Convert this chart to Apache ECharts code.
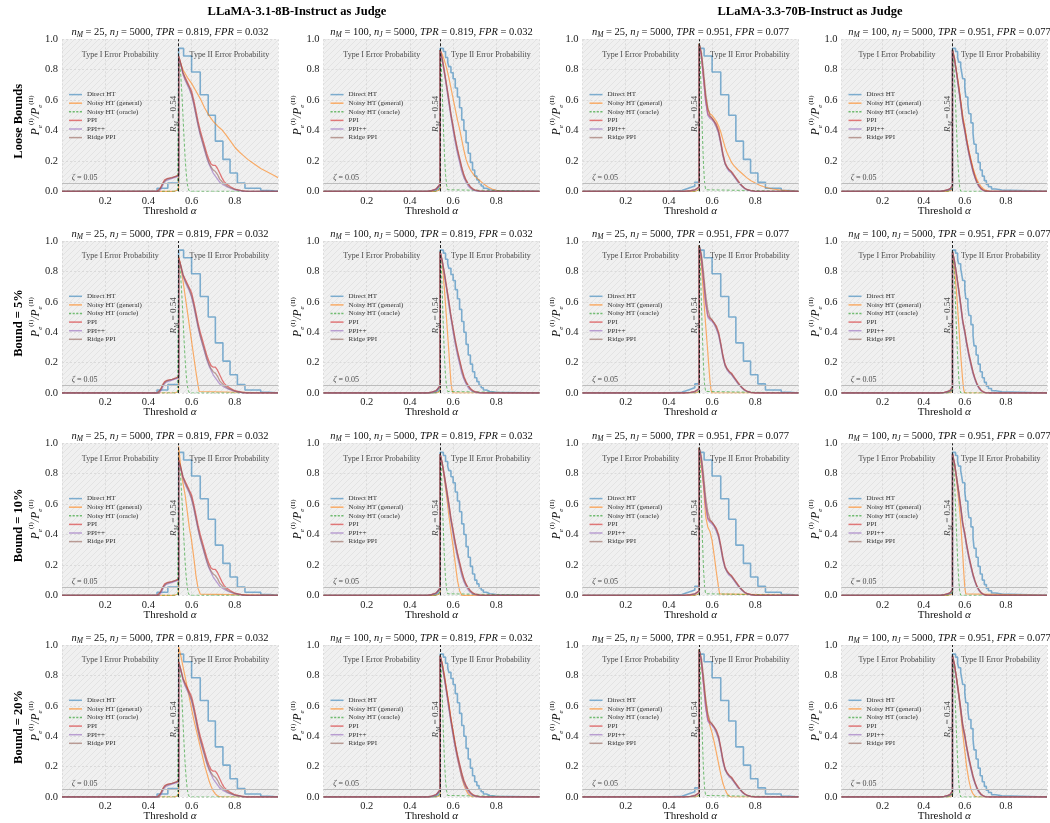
<!DOCTYPE html>
<html><head><meta charset="utf-8">
<script src="https://cdn.jsdelivr.net/npm/echarts@6/dist/echarts.min.js"></script>
<style>html,body{margin:0;padding:0;background:#fff}#c{width:1050px;height:823px}</style>
</head><body><div id="c"></div><script>
// ---------------- DATA ----------------
const seriesNames = ['Direct HT','Noisy HT (general)','Noisy HT (oracle)','PPI','PPI++','Ridge PPI'];
const rowLabels = ['Loose Bounds','Bound = 5%','Bound = 10%','Bound = 20%'];
const judgeTitles = ['LLaMA-3.1-8B-Instruct as Judge','LLaMA-3.3-70B-Instruct as Judge'];
const nM = [25, 100, 25, 100];
const nJ = 5000;
const tprVals = ['0.819','0.819','0.951','0.951'];
const fprVals = ['0.032','0.032','0.077','0.077'];
const RM = 0.54;
const zeta = 0.05;
const xTicks = [0.2, 0.4, 0.6, 0.8];

// Direct HT (step curves), per column
const directA = [[0,0],[0.44,0.02],[0.49,0.055],[0.54,0.94],[0.563,0.89],[0.60,0.785],[0.64,0.635],[0.677,0.50],[0.71,0.33],[0.745,0.21],[0.778,0.12],[0.812,0.055],[0.847,0.02],[0.92,0.005],[0.96,0],[1,0]];
const directB = [[0,0],[0.50,0.005],[0.52,0.015],[0.53,0.03],[0.54,0.94],[0.555,0.92],[0.565,0.88],[0.575,0.85],[0.58,0.82],[0.59,0.78],[0.60,0.74],[0.61,0.68],[0.62,0.62],[0.63,0.55],[0.64,0.47],[0.65,0.40],[0.66,0.32],[0.67,0.25],[0.68,0.19],[0.69,0.14],[0.70,0.10],[0.71,0.075],[0.72,0.05],[0.73,0.035],[0.74,0.02],[0.755,0.01],[0.77,0.005],[0.80,0],[1,0]];
const directC = [[0,0],[0.39,0.005],[0.46,0.015],[0.48,0.025],[0.50,0.035],[0.52,0.06],[0.54,0.97],[0.545,0.94],[0.563,0.89],[0.60,0.785],[0.64,0.635],[0.677,0.50],[0.71,0.33],[0.745,0.21],[0.778,0.12],[0.812,0.06],[0.847,0.02],[0.92,0.005],[0.96,0],[1,0]];
const directD = [[0,0],[0.48,0.003],[0.51,0.01],[0.53,0.02],[0.54,0.94],[0.555,0.92],[0.565,0.88],[0.57,0.85],[0.58,0.82],[0.585,0.78],[0.59,0.74],[0.60,0.68],[0.605,0.62],[0.615,0.57],[0.62,0.51],[0.63,0.45],[0.64,0.38],[0.645,0.31],[0.655,0.25],[0.665,0.19],[0.675,0.14],[0.685,0.10],[0.695,0.07],[0.705,0.045],[0.715,0.03],[0.73,0.015],[0.75,0.008],[0.78,0],[1,0]];

// Noisy HT (oracle), per column
const oracleA = [[0,0],[0.52,0],[0.535,0.005],[0.54,0.01],[0.54,0.88],[0.545,0.84],[0.55,0.76],[0.555,0.64],[0.56,0.50],[0.565,0.35],[0.57,0.22],[0.575,0.12],[0.58,0.05],[0.585,0.015],[0.59,0],[1,0]];
const oracleB = [[0,0],[0.52,0],[0.535,0.01],[0.54,0.03],[0.54,0.93],[0.545,0.85],[0.55,0.65],[0.555,0.42],[0.56,0.24],[0.565,0.11],[0.57,0.04],[0.575,0.01],[0.58,0],[1,0]];
const oracleC = [[0,0],[0.52,0],[0.54,0.01],[0.54,0.97],[0.545,0.85],[0.55,0.62],[0.555,0.38],[0.56,0.18],[0.565,0.06],[0.57,0.01],[0.575,0],[1,0]];
const oracleD = [[0,0],[0.52,0],[0.54,0.02],[0.54,0.93],[0.545,0.88],[0.55,0.75],[0.555,0.58],[0.56,0.40],[0.565,0.24],[0.57,0.11],[0.575,0.03],[0.58,0],[1,0]];

// PPI / PPI++ / Ridge PPI, per column
const ppiA = [[0,0],[0.44,0],[0.455,0.02],[0.465,0.05],[0.475,0.075],[0.49,0.085],[0.51,0.09],[0.53,0.10],[0.54,0.11],[0.54,0.89],[0.55,0.84],[0.56,0.78],[0.57,0.75],[0.58,0.72],[0.59,0.69],[0.60,0.66],[0.61,0.60],[0.62,0.53],[0.63,0.46],[0.64,0.40],[0.65,0.35],[0.66,0.30],[0.67,0.25],[0.68,0.21],[0.69,0.18],[0.70,0.17],[0.71,0.17],[0.72,0.15],[0.73,0.12],[0.74,0.09],[0.75,0.065],[0.76,0.05],[0.78,0.03],[0.80,0.015],[0.83,0.005],[0.86,0],[1,0]];
const ppiPlusA = [[0,0],[0.45,0],[0.46,0.02],[0.47,0.05],[0.48,0.07],[0.50,0.08],[0.52,0.09],[0.54,0.10],[0.54,0.88],[0.55,0.83],[0.56,0.77],[0.57,0.73],[0.58,0.70],[0.59,0.67],[0.60,0.63],[0.61,0.57],[0.62,0.50],[0.63,0.43],[0.64,0.37],[0.65,0.32],[0.66,0.27],[0.67,0.22],[0.68,0.18],[0.69,0.15],[0.70,0.12],[0.71,0.10],[0.72,0.08],[0.73,0.06],[0.75,0.04],[0.77,0.025],[0.80,0.01],[0.84,0],[1,0]];
const ridgeA = [[0,0],[0.445,0],[0.46,0.03],[0.47,0.06],[0.485,0.08],[0.51,0.09],[0.54,0.105],[0.54,0.89],[0.55,0.84],[0.56,0.78],[0.57,0.74],[0.58,0.71],[0.59,0.68],[0.60,0.64],[0.61,0.58],[0.62,0.51],[0.63,0.44],[0.64,0.38],[0.65,0.33],[0.66,0.28],[0.67,0.23],[0.68,0.19],[0.69,0.16],[0.70,0.14],[0.71,0.13],[0.72,0.11],[0.73,0.08],[0.75,0.05],[0.77,0.03],[0.80,0.012],[0.85,0],[1,0]];

const ppiB = [[0,0],[0.48,0],[0.50,0.005],[0.52,0.015],[0.53,0.03],[0.54,0.05],[0.54,0.93],[0.55,0.87],[0.56,0.79],[0.57,0.70],[0.58,0.61],[0.59,0.51],[0.60,0.43],[0.61,0.35],[0.62,0.28],[0.63,0.22],[0.64,0.16],[0.65,0.11],[0.66,0.075],[0.67,0.05],[0.68,0.03],[0.69,0.018],[0.70,0.01],[0.72,0.003],[0.74,0],[1,0]];
const ppiPlusB = [[0,0],[0.48,0],[0.50,0.004],[0.52,0.012],[0.53,0.025],[0.54,0.045],[0.54,0.93],[0.55,0.86],[0.56,0.77],[0.57,0.68],[0.58,0.58],[0.59,0.49],[0.60,0.40],[0.61,0.32],[0.62,0.25],[0.63,0.19],[0.64,0.13],[0.65,0.09],[0.66,0.06],[0.67,0.035],[0.68,0.02],[0.69,0.01],[0.70,0.005],[0.72,0],[1,0]];
const ridgeB = [[0,0],[0.48,0],[0.50,0.005],[0.52,0.014],[0.53,0.028],[0.54,0.048],[0.54,0.93],[0.55,0.87],[0.56,0.78],[0.57,0.69],[0.58,0.60],[0.59,0.50],[0.60,0.42],[0.61,0.34],[0.62,0.27],[0.63,0.21],[0.64,0.15],[0.65,0.10],[0.66,0.07],[0.67,0.045],[0.68,0.027],[0.69,0.015],[0.70,0.008],[0.72,0.002],[0.74,0],[1,0]];

const ppiC = [[0,0],[0.47,0],[0.50,0.004],[0.52,0.01],[0.53,0.02],[0.54,0.03],[0.54,0.97],[0.55,0.90],[0.56,0.75],[0.57,0.60],[0.58,0.51],[0.59,0.49],[0.60,0.48],[0.61,0.46],[0.62,0.44],[0.63,0.40],[0.64,0.33],[0.65,0.25],[0.66,0.19],[0.67,0.16],[0.68,0.14],[0.69,0.13],[0.70,0.11],[0.71,0.09],[0.72,0.07],[0.73,0.05],[0.74,0.035],[0.75,0.022],[0.76,0.013],[0.78,0.004],[0.80,0],[1,0]];
const ppiPlusC = [[0,0],[0.47,0],[0.50,0.003],[0.52,0.008],[0.53,0.016],[0.54,0.025],[0.54,0.96],[0.55,0.89],[0.56,0.74],[0.57,0.59],[0.58,0.50],[0.59,0.48],[0.60,0.47],[0.61,0.45],[0.62,0.42],[0.63,0.38],[0.64,0.31],[0.65,0.23],[0.66,0.18],[0.67,0.15],[0.68,0.13],[0.69,0.12],[0.70,0.10],[0.71,0.08],[0.72,0.06],[0.73,0.045],[0.74,0.03],[0.75,0.018],[0.76,0.01],[0.78,0.003],[0.80,0],[1,0]];
const ridgeC = [[0,0],[0.47,0],[0.50,0.004],[0.52,0.009],[0.53,0.018],[0.54,0.028],[0.54,0.97],[0.55,0.92],[0.56,0.80],[0.57,0.65],[0.58,0.55],[0.59,0.50],[0.60,0.48],[0.61,0.46],[0.62,0.43],[0.63,0.39],[0.64,0.32],[0.65,0.24],[0.66,0.18],[0.67,0.155],[0.68,0.14],[0.69,0.125],[0.70,0.105],[0.71,0.085],[0.72,0.065],[0.73,0.048],[0.74,0.033],[0.75,0.02],[0.76,0.012],[0.78,0.004],[0.80,0],[1,0]];

const ppiD = [[0,0],[0.48,0],[0.50,0.004],[0.52,0.012],[0.53,0.02],[0.54,0.04],[0.54,0.93],[0.55,0.87],[0.56,0.78],[0.57,0.69],[0.58,0.59],[0.59,0.48],[0.60,0.41],[0.61,0.33],[0.62,0.26],[0.63,0.20],[0.64,0.14],[0.65,0.095],[0.66,0.06],[0.67,0.035],[0.68,0.018],[0.69,0.008],[0.70,0.002],[0.72,0],[1,0]];
const ppiPlusD = [[0,0],[0.48,0],[0.50,0.003],[0.52,0.01],[0.53,0.018],[0.54,0.035],[0.54,0.93],[0.55,0.86],[0.56,0.77],[0.57,0.67],[0.58,0.57],[0.59,0.46],[0.60,0.39],[0.61,0.31],[0.62,0.24],[0.63,0.18],[0.64,0.125],[0.65,0.085],[0.66,0.05],[0.67,0.028],[0.68,0.013],[0.69,0.005],[0.70,0.001],[0.72,0],[1,0]];
const ridgeD = [[0,0],[0.48,0],[0.50,0.004],[0.52,0.011],[0.53,0.019],[0.54,0.038],[0.54,0.93],[0.55,0.87],[0.56,0.78],[0.57,0.68],[0.58,0.58],[0.59,0.47],[0.60,0.40],[0.61,0.32],[0.62,0.25],[0.63,0.19],[0.64,0.135],[0.65,0.09],[0.66,0.055],[0.67,0.032],[0.68,0.016],[0.69,0.007],[0.70,0.002],[0.72,0],[1,0]];

// Noisy HT (general): Type I part shared, Type II part per panel (row x column)
const noisyTypeI = [[0,0],[0.52,0],[0.54,0.01]];
const noisyA_loose = [[0.54,0.88],[0.56,0.80],[0.58,0.75],[0.60,0.71],[0.62,0.66],[0.64,0.61],[0.66,0.55],[0.68,0.50],[0.70,0.46],[0.72,0.43],[0.74,0.405],[0.76,0.37],[0.78,0.33],[0.80,0.29],[0.82,0.26],[0.84,0.235],[0.86,0.21],[0.88,0.19],[0.90,0.17],[0.92,0.15],[0.94,0.135],[0.96,0.12],[0.98,0.105],[1.0,0.09]];
const noisyB_loose = [[0.54,0.93],[0.55,0.90],[0.56,0.86],[0.57,0.81],[0.58,0.75],[0.59,0.68],[0.60,0.61],[0.61,0.54],[0.62,0.47],[0.63,0.41],[0.64,0.34],[0.65,0.27],[0.66,0.21],[0.67,0.17],[0.68,0.14],[0.69,0.12],[0.70,0.10],[0.72,0.075],[0.74,0.05],[0.76,0.03],[0.78,0.015],[0.80,0.007],[0.83,0]];
const noisyC_loose = [[0.54,0.97],[0.55,0.90],[0.56,0.76],[0.57,0.62],[0.58,0.54],[0.59,0.51],[0.60,0.50],[0.61,0.48],[0.62,0.46],[0.63,0.43],[0.64,0.39],[0.65,0.34],[0.66,0.29],[0.67,0.25],[0.68,0.22],[0.69,0.19],[0.70,0.17],[0.72,0.14],[0.74,0.115],[0.76,0.09],[0.78,0.07],[0.80,0.055],[0.82,0.04],[0.85,0.025],[0.88,0.015],[0.92,0.008],[0.96,0.003],[1.0,0]];
const noisyD_loose = [[0.54,0.93],[0.55,0.88],[0.56,0.79],[0.57,0.70],[0.58,0.60],[0.59,0.50],[0.60,0.42],[0.61,0.34],[0.62,0.27],[0.63,0.21],[0.64,0.155],[0.65,0.11],[0.66,0.075],[0.67,0.05],[0.68,0.03],[0.69,0.017],[0.70,0.008],[0.72,0.002],[0.74,0]];
const noisyA_5 = [[0.54,0.90],[0.55,0.83],[0.56,0.74],[0.57,0.64],[0.58,0.54],[0.59,0.44],[0.60,0.34],[0.61,0.24],[0.62,0.14],[0.63,0.05],[0.635,0.01],[0.64,0]];
const noisyB_5 = [[0.54,0.93],[0.55,0.85],[0.56,0.68],[0.57,0.48],[0.58,0.28],[0.585,0.17],[0.59,0.07],[0.595,0.02],[0.60,0]];
const noisyC_5 = [[0.54,0.97],[0.55,0.85],[0.56,0.65],[0.57,0.45],[0.58,0.27],[0.59,0.08],[0.595,0.02],[0.60,0]];
const noisyD_5 = [[0.54,0.93],[0.55,0.82],[0.56,0.66],[0.57,0.46],[0.58,0.25],[0.59,0.08],[0.595,0.02],[0.60,0]];
const noisyA_10 = [[0.54,0.98],[0.55,0.84],[0.56,0.74],[0.57,0.66],[0.58,0.55],[0.59,0.44],[0.60,0.36],[0.61,0.25],[0.62,0.13],[0.63,0.045],[0.64,0.008],[0.645,0]];
const noisyB_10 = [[0.54,0.93],[0.55,0.86],[0.56,0.76],[0.57,0.65],[0.58,0.53],[0.59,0.42],[0.60,0.32],[0.61,0.21],[0.62,0.10],[0.63,0.03],[0.64,0]];
const noisyC_10 = [[0.54,0.97],[0.55,0.85],[0.56,0.72],[0.565,0.62],[0.57,0.52],[0.58,0.45],[0.59,0.42],[0.60,0.36],[0.61,0.26],[0.62,0.15],[0.63,0.05],[0.635,0.01],[0.64,0]];
const noisyD_10 = [[0.54,0.93],[0.55,0.86],[0.56,0.75],[0.57,0.63],[0.58,0.48],[0.59,0.27],[0.595,0.15],[0.60,0.05],[0.605,0.01],[0.61,0]];
const noisyA_20 = [[0.54,0.99],[0.55,0.93],[0.56,0.86],[0.57,0.79],[0.58,0.72],[0.59,0.65],[0.60,0.58],[0.61,0.51],[0.62,0.45],[0.63,0.39],[0.64,0.33],[0.65,0.27],[0.66,0.21],[0.67,0.16],[0.68,0.11],[0.69,0.07],[0.70,0.04],[0.71,0.02],[0.72,0.008],[0.73,0.002],[0.74,0]];
const noisyB_20 = [[0.54,0.93],[0.55,0.88],[0.56,0.80],[0.57,0.71],[0.58,0.62],[0.59,0.52],[0.60,0.43],[0.61,0.34],[0.62,0.26],[0.63,0.19],[0.64,0.13],[0.65,0.08],[0.66,0.045],[0.67,0.02],[0.68,0.008],[0.69,0]];
const noisyC_20 = [[0.54,0.97],[0.55,0.88],[0.56,0.76],[0.57,0.64],[0.58,0.54],[0.59,0.47],[0.60,0.42],[0.61,0.36],[0.62,0.29],[0.63,0.22],[0.64,0.15],[0.65,0.09],[0.66,0.05],[0.67,0.02],[0.68,0.005],[0.69,0]];
const noisyD_20 = [[0.54,0.93],[0.55,0.87],[0.56,0.78],[0.57,0.67],[0.58,0.55],[0.59,0.42],[0.60,0.30],[0.61,0.19],[0.62,0.11],[0.63,0.05],[0.64,0.02],[0.65,0.005],[0.66,0]];

// ---------------- LAYOUT / STYLE ----------------
const FONT = 'Liberation Serif';
const colX = [62, 323.5, 582.5, 841.5];
const rowY = [39.3, 241, 443.3, 645];
const PW = 216, PH = 152;
const colors = ['rgba(31,119,180,0.55)','rgba(255,127,14,0.6)','rgba(44,160,44,0.65)','rgba(214,39,40,0.6)','rgba(148,103,189,0.6)','rgba(140,86,75,0.55)'];
const widths = [1.6, 1.2, 1.0, 1.3, 1.3, 1.3];
const dashedIcon = 'path://M0,0h3v1h-3zM5,0h3v1h-3zM10,0h3v1h-3zM15,0h3v1h-3z';

const directCols = [directA, directB, directC, directD];
const oracleCols = [oracleA, oracleB, oracleC, oracleD];
const ppiCols = [ppiA, ppiB, ppiC, ppiD];
const ppiPlusCols = [ppiPlusA, ppiPlusB, ppiPlusC, ppiPlusD];
const ridgeCols = [ridgeA, ridgeB, ridgeC, ridgeD];
const noisyGrid = [
  [noisyA_loose, noisyB_loose, noisyC_loose, noisyD_loose],
  [noisyA_5, noisyB_5, noisyC_5, noisyD_5],
  [noisyA_10, noisyB_10, noisyC_10, noisyD_10],
  [noisyA_20, noisyB_20, noisyC_20, noisyD_20]
];
function fullNoisy(part){
  const d = noisyTypeI.concat(part);
  if (d[d.length-1][0] < 1) d.push([1,0]);
  return d;
}

// hatched background pattern
const pc = document.createElement('canvas'); pc.width = 6; pc.height = 6;
const g = pc.getContext('2d');
g.fillStyle = '#f0f0f0'; g.fillRect(0,0,6,6);
g.strokeStyle = '#e3e3e3'; g.lineWidth = 1;
g.beginPath(); g.moveTo(0,6); g.lineTo(6,0); g.moveTo(-1,1); g.lineTo(1,-1); g.moveTo(5,7); g.lineTo(7,5); g.stroke();
const bgPattern = {image: pc, repeat: 'repeat'};

const grids = [], xAxes = [], yAxes = [], legends = [], series = [], graphics = [];

graphics.push({type:'text', x: 297, y: 12, style:{text: judgeTitles[0], fontFamily: FONT, fontSize: 12.5, fontWeight:'bold', fill:'#000', align:'center', verticalAlign:'middle'}});
graphics.push({type:'text', x: 810, y: 12, style:{text: judgeTitles[1], fontFamily: FONT, fontSize: 12.5, fontWeight:'bold', fill:'#000', align:'center', verticalAlign:'middle'}});

const titleRich = {
  i:{fontFamily:FONT, fontSize:10.5, fontStyle:'italic', lineHeight:14},
  s:{fontFamily:FONT, fontSize:7.5, fontStyle:'italic', verticalAlign:'bottom', lineHeight:14, padding:[3,0,0,0]}
};

for (let r = 0; r < 4; r++) {
  graphics.push({type:'text', x: 19, y: rowY[r] + PH/2 + 6, rotation: Math.PI/2,
    style:{text: rowLabels[r], fontFamily: FONT, fontSize: 12.5, fontWeight:'bold', fill:'#000', align:'center', verticalAlign:'middle'}});
  for (let c = 0; c < 4; c++) {
    const idx = r*4 + c;
    grids.push({left: colX[c], top: rowY[r], width: PW, height: PH, show: true, backgroundColor: bgPattern, borderWidth: 0});
    xAxes.push({gridIndex: idx, type:'value', min:0, max:1, interval:0.2,
      name:'Threshold {a|α}', nameLocation:'middle', nameGap: 14, nameMoveOverlap: false,
      nameTextStyle:{fontFamily:FONT, fontSize:11, color:'#111', rich:{a:{fontFamily:FONT, fontSize:11, fontStyle:'italic', color:'#111'}}},
      axisLine:{show:false}, axisTick:{show:false},
      axisLabel:{fontFamily:FONT, fontSize:10.5, color:'#222', margin:4,
        formatter: v => xTicks.some(t => Math.abs(t - v) < 1e-6) ? v.toFixed(1) : ''},
      splitLine:{show:true, lineStyle:{color:'#d6d6d6', width:0.8, type:[2,2]}}
    });
    yAxes.push({gridIndex: idx, type:'value', min:0, max:1, interval:0.2,
      name:'{p|P}{d|e}{u|(I)}{p|/P}{d|e}{u|(II)}', nameLocation:'middle', nameGap: 18, nameRotate: 90, nameMoveOverlap: false,
      nameTextStyle:{fontFamily:FONT, fontSize:11, color:'#111', rich:{
        p:{fontFamily:FONT, fontSize:11.5, fontStyle:'italic', color:'#111', lineHeight:16},
        u:{fontFamily:FONT, fontSize:7, color:'#111', verticalAlign:'top', lineHeight:16},
        d:{fontFamily:FONT, fontSize:7, fontStyle:'italic', color:'#111', verticalAlign:'bottom', lineHeight:16}}},
      axisLine:{show:false}, axisTick:{show:false},
      axisLabel:{fontFamily:FONT, fontSize:10.5, color:'#222', margin:4, formatter: v => v.toFixed(1)},
      splitLine:{show:true, lineStyle:{color:'#d6d6d6', width:0.8, type:[2,2]}}
    });
    legends.push({orient:'vertical', left: colX[c] + 7, top: rowY[r] + 51, padding: 0,
      itemWidth: 13, itemHeight: 1.5, itemGap: 0, selectedMode: false, symbolKeepAspect: false,
      textStyle:{fontFamily:FONT, fontSize:7, color:'#333', lineHeight: 8.6},
      data: seriesNames.map((n, k) => ({name: n, icon: k === 2 ? dashedIcon : 'rect'}))});

    graphics.push({type:'text', x: colX[c] + PW/2, y: rowY[r] - 7,
      style:{text: `{i|n}{s|M} = ${nM[c]}, {i|n}{s|J} = ${nJ}, {i|TPR} = ${tprVals[c]}, {i|FPR} = ${fprVals[c]}`,
        fontFamily: FONT, fontSize: 10.5, fill:'#111', align:'center', verticalAlign:'middle', rich: titleRich}});

    const sets = [directCols[c], fullNoisy(noisyGrid[r][c]), oracleCols[c], ppiCols[c], ppiPlusCols[c], ridgeCols[c]];
    sets.forEach((d, k) => {
      series.push({type:'line', name: seriesNames[k], xAxisIndex: idx, yAxisIndex: idx, data: d,
        symbol:'none', showSymbol:false, step: k === 0 ? 'end' : false, silent: true,
        lineStyle:{color: colors[k], width: widths[k], type: k === 2 ? [3,2] : 'solid'},
        itemStyle:{color: colors[k]}});
    });
    // annotations
    const lab = {show:true, position:'inside', fontFamily:FONT, color:'#222'};
    series.push({type:'scatter', xAxisIndex: idx, yAxisIndex: idx, symbolSize: 0, silent: true, z: 5,
      data: [
        {value:[0.27, 0.9], label:Object.assign({}, lab, {formatter:'Type I Error Probability', fontSize:8})},
        {value:[0.775, 0.9], label:Object.assign({}, lab, {formatter:'Type II Error Probability', fontSize:8})},
        {value:[0.045, zeta + 0.01], label:Object.assign({}, lab, {formatter:'{z|ζ} = 0.05', fontSize:8, align:'left', verticalAlign:'bottom', rich:{z:{fontFamily:FONT, fontSize:8, fontStyle:'italic', color:'#222'}}})},
        {value:[0.518, 0.51], label:Object.assign({}, lab, {formatter:'{p|R}{s|M} = 0.54', fontSize:9, rotate:90, rich:{p:{fontFamily:FONT, fontSize:9, fontStyle:'italic', color:'#222'}, s:{fontFamily:FONT, fontSize:6.5, fontStyle:'italic', color:'#222', verticalAlign:'bottom', lineHeight:12}}})}
      ],
      markLine:{silent:true, symbol:'none', label:{show:false}, animation:false,
        data:[
          {xAxis: RM, lineStyle:{color:'#222', type:[3,2], width:1}},
          {yAxis: zeta, lineStyle:{color:'#bdbdbd', type:'solid', width:1}}
        ]}
    });
  }
}

const chart = echarts.init(document.getElementById('c'), null, {renderer:'canvas'});
chart.setOption({animation:false, backgroundColor:'#ffffff', grid: grids, xAxis: xAxes, yAxis: yAxes, legend: legends, series: series, graphic: graphics});
</script></body></html>
